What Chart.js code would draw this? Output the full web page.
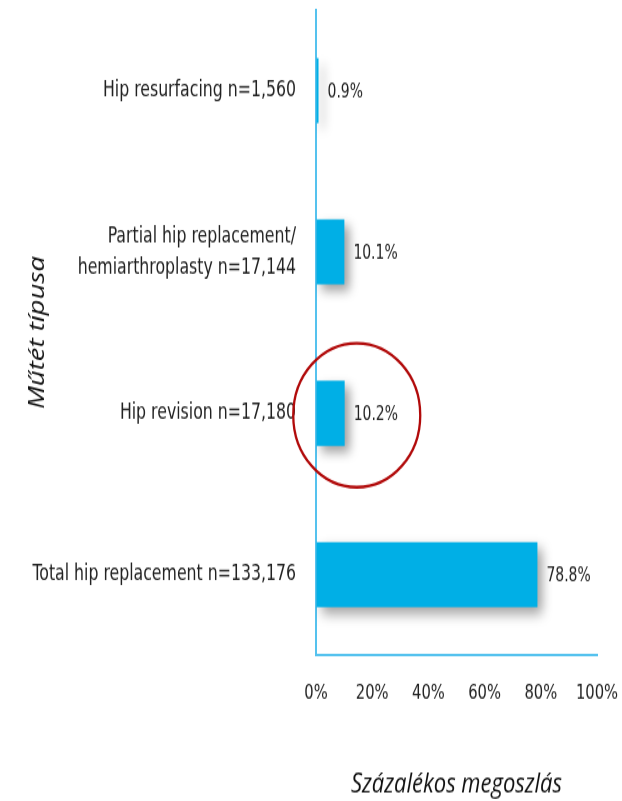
<!DOCTYPE html>
<html><head><meta charset="utf-8">
<style>
html,body{margin:0;padding:0;background:#fff;overflow:hidden;}
#wrap{width:622px;height:801px;overflow:hidden;background:#fff;}
canvas{display:block;transform-origin:0 0;transform:scale(1,1.25);}
</style>
<script src="https://cdn.jsdelivr.net/npm/chart.js@4"></script>
</head><body><div id="wrap"><canvas id="c" width="622" height="641"></canvas></div>
<script>
const categories = [
  'Hip resurfacing n=1,560',
  ['Partial hip replacement/', 'hemiarthroplasty n=17,144'],
  'Hip revision n=17,180',
  'Total hip replacement n=133,176'
];
const shares = [0.9, 10.1, 10.2, 78.8];
const tickValues = [0, 20, 40, 60, 80, 100];
const xTitle = 'Százalékos megoszlás';
const yTitle = 'Műtét típusa';
const highlightIndex = 2;
const highlightCenterValue = 14.5;

const NARROW = '"Liberation Sans Narrow", "DejaVu Sans Condensed", "Arial Narrow", sans-serif';
const TEXT = '#222222';
const AXIS = '#55c2ee';

const shadowPlugin = {
  id: 'barShadow',
  beforeDatasetDraw(chart) {
    const c = chart.ctx;
    c.save();
    c.shadowColor = 'rgba(0,0,0,0.38)';
    c.shadowBlur = 10;
    c.shadowOffsetX = 5;
    c.shadowOffsetY = 5;
  },
  afterDatasetDraw(chart) { chart.ctx.restore(); }
};

const valueLabels = {
  id: 'valueLabels',
  afterDatasetsDraw(chart) {
    const c = chart.ctx;
    const meta = chart.getDatasetMeta(0);
    c.save();
    c.font = '15.5px ' + NARROW;
    c.fillStyle = TEXT;
    c.textAlign = 'left';
    c.textBaseline = 'middle';
    meta.data.forEach((bar, i) => {
      c.fillText(shares[i].toFixed(1) + '%', bar.x + 9, bar.y + 1);
    });
    c.restore();
  }
};

const highlight = {
  id: 'highlight',
  afterDraw(chart) {
    const c = chart.ctx;
    const bar = chart.getDatasetMeta(0).data[highlightIndex];
    const cx = chart.scales.x.getPixelForValue(highlightCenterValue);
    c.save();
    c.strokeStyle = '#b10a0a';
    c.lineWidth = 2.3;
    c.beginPath();
    c.ellipse(cx, bar.y + 1.5, 63.5, 57.6, 0, 0, Math.PI * 2);
    c.stroke();
    c.restore();
  }
};

new Chart(document.getElementById('c'), {
  type: 'bar',
  data: {
    labels: categories,
    datasets: [{
      data: shares,
      backgroundColor: '#00afe6',
      borderWidth: 0,
      categoryPercentage: 1,
      barPercentage: 0.403
    }]
  },
  options: {
    indexAxis: 'y',
    responsive: false,
    animation: false,
    devicePixelRatio: 1,
    layout: { padding: { top: 8, right: 25, left: 0, bottom: 0 } },
    plugins: { legend: { display: false }, tooltip: { enabled: false } },
    scales: {
      x: {
        min: 0, max: 100,
        afterBuildTicks(scale) { scale.ticks = tickValues.map(v => ({ value: v })); },
        afterFit(scale) { scale.height = 116.8; scale.paddingRight = 0; scale.paddingLeft = 0; },
        grid: { display: true, color: 'rgba(0,0,0,0)', drawTicks: false },
        border: { display: true, color: AXIS, width: 2 },
        ticks: {
          callback: v => v + '%',
          font: { family: NARROW, size: 16.4 },
          color: TEXT,
          padding: 20.5,
          maxRotation: 0
        },
        title: {
          display: true, text: xTitle, color: '#111',
          font: { family: '"Open Sans", sans-serif', size: 22, style: 'italic' },
          padding: { top: 0, bottom: 0 }
        }
      },
      y: {
        afterFit(scale) { scale.width = 316; scale.paddingTop = 0; scale.paddingBottom = 0; },
        grid: { display: true, color: 'rgba(0,0,0,0)', drawTicks: false },
        border: { display: true, color: AXIS, width: 2 },
        ticks: {
          font: { family: NARROW, size: 17.5, lineHeight: 1.42 },
          color: TEXT,
          padding: 20
        },
        title: {
          display: true, text: yTitle, color: '#111',
          font: { family: '"Open Sans", sans-serif', size: 22, style: 'italic' },
          padding: { top: 24.8, bottom: 0 }
        }
      }
    }
  },
  plugins: [shadowPlugin, valueLabels, highlight]
});
</script>
</body></html>
